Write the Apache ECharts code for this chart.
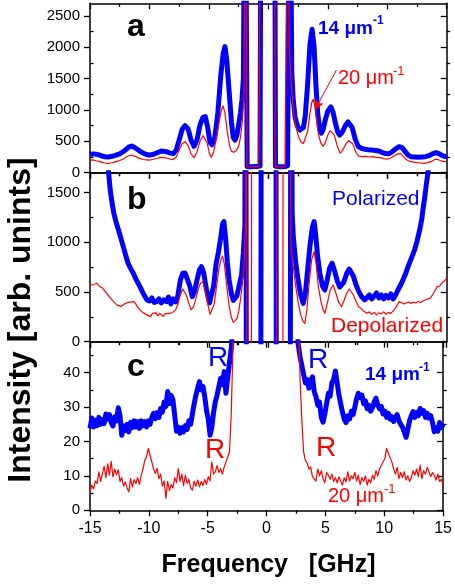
<!DOCTYPE html>
<html><head><meta charset="utf-8">
<script src="https://cdn.jsdelivr.net/npm/echarts@6/dist/echarts.min.js"></script>
<style>html,body{margin:0;padding:0;background:#fff}#c{width:455px;height:584px}</style>
</head><body><div id="c"></div>
<script>
// ---------------- DATA ----------------
// Panel a: intensity vs frequency (GHz), 14 um^-1 (blue) and 20 um^-1 (red)
const a14 = [[-15,290],[-14.75,300],[-14.5,296],[-14.25,284],[-14,266],[-13.75,254],[-13.5,250],[-13.25,257],[-13,266],[-12.75,284],[-12.5,300],[-12.25,330],[-12,365],[-11.75,408],[-11.5,425],[-11.25,402],[-11,370],[-10.75,336],[-10.5,310],[-10.25,290],[-10,280],[-9.75,290],[-9.5,305],[-9.25,326],[-9,345],[-8.75,340],[-8.5,330],[-8.25,312],[-8,305],[-7.75,360],[-7.5,520],[-7.25,690],[-7,750],[-6.75,700],[-6.5,520],[-6.25,420],[-6,520],[-5.75,760],[-5.5,880],[-5.3,893],[-5.1,720],[-4.9,480],[-4.75,445],[-4.5,560],[-4.25,950],[-4,1550],[-3.8,1900],[-3.65,2010],[-3.5,1800],[-3.3,1300],[-3.1,800],[-2.95,560],[-2.8,520],[-2.65,590],[-2.5,760],[-2.35,950],[-2.22,1160],[-2.1,1500],[-1.95,6000],[-1.78,100],[-1.6,96],[-1.4,94],[-1.2,97],[-1,100],[-0.85,104],[-0.7,106],[-0.58,8000],[0.5,8000],[0.6,104],[0.8,98],[1,95],[1.2,96],[1.4,99],[1.55,104],[1.62,110],[1.8,6000],[1.97,1600],[2.1,1150],[2.25,880],[2.45,740],[2.65,680],[2.8,660],[2.95,720],[3.1,900],[3.3,1400],[3.5,2050],[3.68,2287],[3.85,2000],[4,1400],[4.15,950],[4.3,720],[4.45,630],[4.6,680],[4.8,850],[5,980],[5.25,1050],[5.45,960],[5.65,780],[5.85,640],[6,600],[6.2,640],[6.45,740],[6.7,810],[6.85,813],[7.05,720],[7.3,540],[7.55,420],[7.8,390],[8.1,375],[8.4,365],[8.7,360],[9,355],[9.3,345],[9.6,320],[9.85,305],[10.1,300],[10.4,330],[10.7,380],[11,415],[11.25,400],[11.5,340],[11.75,280],[12,255],[12.3,250],[12.6,245],[12.9,250],[13.2,255],[13.5,270],[13.8,300],[14.1,320],[14.35,305],[14.6,275],[14.8,262],[15,255]];
const a20 = [[-15,200],[-14.75,205],[-14.5,190],[-14.25,180],[-14,165],[-13.75,155],[-13.5,150],[-13.25,155],[-13,165],[-12.75,180],[-12.5,195],[-12.25,215],[-12,245],[-11.75,270],[-11.5,282],[-11.25,265],[-11,240],[-10.75,225],[-10.5,210],[-10.25,205],[-10,200],[-9.75,210],[-9.5,222],[-9.25,235],[-9,245],[-8.75,240],[-8.5,230],[-8.25,215],[-8,210],[-7.75,250],[-7.5,360],[-7.25,460],[-7,495],[-6.75,430],[-6.5,300],[-6.25,240],[-6,330],[-5.75,500],[-5.5,590],[-5.35,600],[-5.15,480],[-4.95,300],[-4.8,245],[-4.6,330],[-4.4,520],[-4.15,800],[-3.95,1000],[-3.8,1064],[-3.65,950],[-3.45,650],[-3.25,420],[-3.1,340],[-2.9,325],[-2.7,350],[-2.5,420],[-2.35,560],[-2.2,800],[-2.05,1200],[-1.92,6000],[-1.8,100],[-1.6,95],[-1.4,93],[-1.2,96],[-1,98],[-0.8,100],[-0.66,102],[-0.56,8000],[0.48,8000],[0.58,100],[0.8,96],[1,94],[1.2,95],[1.4,98],[1.55,102],[1.66,6000],[1.75,2100],[1.9,1500],[2.05,1100],[2.2,850],[2.37,690],[2.55,570],[2.75,490],[2.95,465],[3.1,475],[3.3,650],[3.5,950],[3.65,1120],[3.77,1170],[3.9,1080],[4.05,850],[4.2,620],[4.4,480],[4.6,420],[4.8,480],[5,600],[5.2,670],[5.35,680],[5.55,600],[5.8,420],[6.05,310],[6.25,360],[6.5,450],[6.75,510],[6.9,520],[7.1,460],[7.35,330],[7.6,265],[7.9,255],[8.2,260],[8.5,250],[8.8,255],[9.1,245],[9.4,240],[9.7,225],[10,215],[10.3,235],[10.6,270],[10.9,300],[11.1,305],[11.35,260],[11.6,210],[11.9,180],[12.2,170],[12.5,160],[12.8,155],[13.1,150],[13.4,160],[13.7,180],[14,210],[14.2,215],[14.45,195],[14.7,180],[15,175]];

// Panel b: Polarized (blue) and Depolarized (red)
const bPol = [[-15,3000],[-14,2300],[-13.6,1900],[-13.45,1720],[-13.3,1527],[-13.15,1400],[-13,1293],[-12.8,1200],[-12.6,1124],[-12.4,1040],[-12.2,956],[-12,870],[-11.8,789],[-11.6,740],[-11.36,689],[-11.1,620],[-10.8,554],[-10.5,480],[-10.2,420],[-10,410],[-9.8,440],[-9.6,395],[-9.4,403],[-9.2,430],[-9,390],[-8.8,420],[-8.56,403],[-8.4,450],[-8.2,380],[-8,430],[-7.8,400],[-7.6,470],[-7.4,620],[-7.2,689],[-7,690],[-6.85,672],[-6.6,560],[-6.4,453],[-6.2,510],[-6,620],[-5.8,720],[-5.63,755],[-5.45,700],[-5.2,520],[-4.95,390],[-4.8,410],[-4.6,560],[-4.4,780],[-4.2,900],[-4,1050],[-3.85,1180],[-3.74,1208],[-3.6,1050],[-3.45,800],[-3.3,620],[-3.1,480],[-2.95,415],[-2.82,406],[-2.65,460],[-2.5,540],[-2.35,620],[-2.25,675],[-2.1,900],[-1.97,1178],[-1.93,6000],[-1.82,-3000],[-0.66,-3000],[-0.56,6000],[0.6,6000],[0.7,-3000],[1.82,-3000],[1.92,6000],[2,1300],[2.1,1057],[2.3,800],[2.5,621],[2.7,480],[2.93,386],[3.1,470],[3.3,720],[3.49,956],[3.7,1150],[3.85,1208],[4,1050],[4.15,850],[4.33,689],[4.55,560],[4.75,520],[4.95,620],[5.15,740],[5.36,789],[5.55,720],[5.8,610],[6,550],[6.15,537],[6.35,600],[6.6,690],[6.8,730],[6.93,739],[7.15,660],[7.35,580],[7.55,520],[7.8,460],[8.1,420],[8.3,445],[8.5,470],[8.7,430],[8.9,460],[9.1,490],[9.3,440],[9.5,470],[9.7,430],[9.9,465],[10.1,440],[10.3,480],[10.5,430],[10.7,470],[10.9,520],[11.2,588],[11.5,670],[11.75,755],[12,830],[12.3,923],[12.5,1010],[12.73,1124],[12.9,1230],[13,1326],[13.15,1450],[13.3,1594],[13.45,1720],[13.7,2000],[14.2,2600],[15,3000]];
const bDepol = [[-15,571],[-14.85,590],[-14.7,575],[-14.55,595],[-14.4,588],[-14.25,560],[-14.1,575],[-13.95,540],[-13.8,520],[-13.6,487],[-13.45,470],[-13.3,440],[-13.15,420],[-13,400],[-12.85,380],[-12.7,365],[-12.55,375],[-12.4,355],[-12.25,370],[-12.1,380],[-11.95,375],[-11.8,395],[-11.65,380],[-11.5,400],[-11.3,403],[-11.15,380],[-11,350],[-10.8,319],[-10.65,300],[-10.5,290],[-10.35,275],[-10.2,270],[-10.05,250],[-9.9,252],[-9.75,285],[-9.6,265],[-9.45,290],[-9.3,260],[-9.15,286],[-9,275],[-8.85,255],[-8.7,280],[-8.55,265],[-8.4,285],[-8.25,269],[-8.1,290],[-7.95,300],[-7.8,320],[-7.6,380],[-7.4,470],[-7.2,530],[-7.05,520],[-6.9,470],[-6.7,390],[-6.5,320],[-6.3,350],[-6.1,430],[-5.9,530],[-5.7,590],[-5.5,604],[-5.3,510],[-5.1,380],[-4.9,275],[-4.75,290],[-4.55,380],[-4.35,560],[-4.15,740],[-3.95,840],[-3.85,862],[-3.7,780],[-3.5,560],[-3.3,360],[-3.1,240],[-2.95,195],[-2.8,188],[-2.65,230],[-2.5,300],[-2.35,420],[-2.2,560],[-2.05,760],[-1.9,1250],[-1.85,6000],[-1.8,-3000],[-1.44,-3000],[-1.39,6000],[0.66,6000],[0.71,-3000],[1.21,-3000],[1.26,6000],[1.72,6000],[1.9,950],[2.1,750],[2.3,560],[2.5,400],[2.7,280],[2.9,210],[3.07,185],[3.25,330],[3.45,620],[3.65,830],[3.85,906],[4,800],[4.2,560],[4.4,420],[4.6,320],[4.75,286],[4.95,380],[5.2,520],[5.45,571],[5.65,500],[5.9,400],[6.15,352],[6.35,410],[6.6,490],[6.8,530],[6.95,537],[7.15,470],[7.4,400],[7.6,350],[7.8,336],[8,310],[8.3,286],[8.5,300],[8.7,275],[8.9,295],[9.1,270],[9.3,290],[9.5,280],[9.7,300],[9.9,275],[10.1,295],[10.3,285],[10.5,310],[10.7,340],[10.9,380],[11,403],[11.2,395],[11.4,380],[11.6,390],[11.8,400],[12,385],[12.2,400],[12.4,390],[12.6,405],[12.8,395],[13,410],[13.2,420],[13.4,430],[13.6,436],[13.8,470],[14,510],[14.2,554],[14.4,560],[14.6,590],[14.8,610],[15,638]];

// Panel c: sampled every 0.15 GHz from -15 to 15 (201 points)
const freqCStart = -15, freqCStep = 0.15;
const c14 = [
23.8,26.8,24.2,26.2,24.6,27.0,25.0,26.4,25.2,28.0,26.5,27.8,25.5,24.5,27.2,26.0,29.8,27.5,21.8,24.5,
23.2,25.0,22.8,25.6,24.0,26.0,24.2,25.8,23.8,26.0,24.6,25.8,24.2,26.0,25.0,27.0,28.2,26.6,28.4,27.0,
29.6,28.5,31.5,30.2,34.5,31.0,33.4,32.0,27.5,23.0,24.2,22.4,24.0,22.8,24.6,23.5,26.0,25.0,28.0,31.0,
33.5,35.5,37.4,35.0,36.0,33.0,29.0,26.5,21.8,24.0,28.5,31.6,33.5,36.0,38.4,36.5,40.3,34.0,38.5,43.0,
47.0,55,60,60,60,60,60,60,60,60,60,60,60,60,60,60,60,60,60,60,
60,60,60,60,60,60,60,60,60,60,60,60,60,60,60,60,60,55,48.0,44.5,
42.0,39.5,37.0,38.0,35.5,37.5,38.8,34.5,33.0,30.5,31.5,27.0,25.6,28.0,31.0,34.0,33.2,37.0,38.0,40.5,
37.0,33.5,31.0,28.5,26.5,25.5,27.5,26.5,28.8,27.8,30.0,32.5,34.0,32.8,33.5,31.0,31.8,29.5,30.5,28.8,
29.8,31.5,32.6,30.5,29.5,30.2,28.0,28.8,27.0,28.2,26.5,27.2,25.8,27.0,27.8,26.0,25.0,24.2,22.8,21.2,
23.5,26.0,27.5,28.7,27.0,28.5,27.5,29.6,28.2,29.0,27.0,28.2,26.8,27.5,25.5,22.8,24.0,23.0,25.5,24.0,
25.0];
const c20 = [
5.4,7.3,6.2,8.5,7.8,11.2,8.4,10.5,12.8,9.5,13.5,10.2,14.2,9.7,12.0,10.3,11.8,8.4,9.5,7.0,
8.2,6.5,5.4,9.2,6.8,8.9,7.8,9.5,7.5,10.2,12.0,14.5,15.6,18.0,16.0,14.1,12.0,10.7,12.2,9.2,
10.5,7.0,8.5,3.5,8.4,5.8,7.5,6.5,9.5,8.0,12.1,8.4,10.5,7.2,10.2,7.8,9.0,6.5,5.9,8.5,
7.0,8.8,6.8,8.4,7.2,9.0,7.5,9.8,8.5,14.1,10.5,11.2,13.0,11.0,12.1,10.5,12.6,14.0,15.5,17.0,
28.0,48.0,60,60,60,60,60,60,60,60,60,60,60,60,60,60,60,60,60,60,
60,60,60,60,60,60,60,60,60,60,60,60,60,60,60,60,60,60,60,38.0,
26.0,17.0,14.5,13.7,12.0,12.6,9.8,10.2,8.5,12.0,10.0,11.5,9.2,8.0,11.0,10.2,9.0,10.5,8.4,9.5,
8.0,9.7,8.5,7.3,9.5,8.2,11.2,8.5,10.0,9.2,11.0,8.5,10.2,7.5,9.5,8.4,10.0,7.3,9.0,8.0,
10.2,9.0,11.5,10.0,12.0,11.5,14.1,15.0,18.0,16.5,17.0,14.0,12.0,10.5,12.5,9.2,11.0,9.5,11.2,8.8,
10.0,8.4,9.5,11.5,10.2,12.0,9.8,13.1,9.2,11.5,10.5,12.5,12.0,9.8,11.0,10.2,8.8,10.5,8.4,9.0,
7.3];

// Axis ticks
const xMin = -15, xMax = 15, xInterval = 5;
const yMax = [2700, 1700, 49];
const yMajor = [[0,500,1000,1500,2000,2500],[0,500,1000,1500],[0,10,20,30,40]];
const yMinor = [[250,750,1250,1750,2250],[250,750,1250],[5,15,25,35,45]];
// annotation arrow (data coordinates of panel a)
const arrowA = [[5.73,1638],[3.91,1000]];

// ---------------- CHART ----------------
const L = 90, W = 356.7;
const grids = [
  {left: L, width: W, top: 3.3, height: 169.4},
  {left: L, width: W, top: 172.7, height: 169},
  {left: L, width: W, top: 341.7, height: 168.6}
];
const BLACK = '#000';
const FONT = '"Liberation Sans", Arial, Helvetica, sans-serif';
const axisLineStyle = {color: BLACK, width: 1.5};
const tickLineStyle = {color: BLACK, width: 1.3};
const plain = v => String(v);

const xAxes = [], yAxes = [];
for (let g = 0; g < 3; g++) {
  const base = {type: 'value', gridIndex: g, min: xMin, max: xMax, interval: xInterval,
    splitLine: {show: false}, minorSplitLine: {show: false}};
  xAxes.push(Object.assign({}, base, {position: 'bottom',
    axisLine: {show: true, onZero: false, lineStyle: axisLineStyle},
    axisTick: {show: true, inside: false, length: 6, lineStyle: tickLineStyle},
    minorTick: {show: true, splitNumber: 2, length: 3.5, lineStyle: tickLineStyle},
    axisLabel: {show: g === 2, fontSize: 16, color: BLACK, fontFamily: FONT, margin: 10, formatter: plain}}));
  xAxes.push(Object.assign({}, base, {position: 'top',
    axisLine: {show: true, onZero: false, lineStyle: axisLineStyle},
    axisTick: {show: true, inside: true, length: 6, lineStyle: tickLineStyle},
    minorTick: {show: true, splitNumber: 2, length: 3.5, lineStyle: tickLineStyle},
    axisLabel: {show: false}}));
  const yb = {type: 'value', gridIndex: g, min: 0, max: yMax[g], splitLine: {show: false}};
  // left major
  yAxes.push(Object.assign({}, yb, {position: 'left',
    axisLine: {show: true, onZero: false, lineStyle: axisLineStyle},
    axisTick: {show: true, inside: false, length: 6, lineStyle: tickLineStyle, customValues: yMajor[g]},
    axisLabel: {show: true, customValues: yMajor[g], fontSize: 15, color: BLACK, fontFamily: FONT, margin: 10, formatter: plain}}));
  // right major
  yAxes.push(Object.assign({}, yb, {position: 'right',
    axisLine: {show: true, onZero: false, lineStyle: axisLineStyle},
    axisTick: {show: true, inside: true, length: 6, lineStyle: tickLineStyle, customValues: yMajor[g]},
    axisLabel: {show: false}}));
  // right minor (position flips to right since left is taken)
  yAxes.push(Object.assign({}, yb, {position: 'left',
    axisLine: {show: false, onZero: false},
    axisTick: {show: true, inside: true, length: 3.5, lineStyle: tickLineStyle, customValues: yMinor[g]},
    axisLabel: {show: false}}));
  // left minor (position flips to left since right is taken)
  yAxes.push(Object.assign({}, yb, {position: 'right',
    axisLine: {show: false, onZero: false},
    axisTick: {show: true, inside: false, length: 3.5, lineStyle: tickLineStyle, customValues: yMinor[g]},
    axisLabel: {show: false}}));
}

const freqC = c14.map((_, i) => +(freqCStart + i * freqCStep).toFixed(2));
const zip = (xs, ys) => xs.map((x, i) => [x, ys[i]]);

function line(g, data, color, width, extra) {
  return Object.assign({type: 'line', xAxisIndex: 2 * g, yAxisIndex: 4 * g, data: data,
    symbol: 'none', showSymbol: false, clip: true, animation: false,
    lineStyle: {color: color, width: width, join: 'round'}, itemStyle: {color: color}}, extra || {});
}
const BLUE = '#0000ff', RED = '#ff0000';
const series = [
  line(0, a14, BLUE, 5),
  line(0, a20, RED, 1.2, {markLine: {silent: true, animation: false, symbol: ['none', 'arrow'], symbolSize: [7, 10],
    label: {show: false}, lineStyle: {color: RED, width: 1, type: 'solid'},
    data: [[{coord: arrowA[0]}, {coord: arrowA[1]}]]}}),
  line(1, bPol, BLUE, 5),
  line(1, bDepol, RED, 1.2),
  line(2, zip(freqC, c14), BLUE, 5),
  line(2, zip(freqC, c20), RED, 1.2)
];

function txt(x, baseline, text, size, color, bold) {
  return {type: 'text', x: x, y: baseline - 0.3465 * size, z: 100,
    style: {text: text, fill: color, font: (bold ? 'bold ' : '') + size + 'px ' + FONT,
      align: 'left', verticalAlign: 'middle', textAlign: 'left', textVerticalAlign: 'middle'}};
}
const graphics = [
  txt(127, 38, 'a', 32, BLACK, true),
  txt(127, 211.7, 'b', 32, BLACK, true),
  txt(127, 378, 'c', 32, BLACK, true),
  txt(318, 35, '14 μm', 19, BLUE, true), txt(373, 25, '-1', 12, BLUE, true),
  txt(338, 85, '20 μm', 20, RED, false), txt(393, 76, '-1', 13, RED, false),
  txt(332, 206.7, 'Polarized', 21, BLUE, false),
  txt(331, 333.3, 'Depolarized', 21, RED, false),
  txt(208, 368.3, 'R', 28, BLUE, false),
  txt(205, 460, 'R', 28, RED, false),
  txt(308, 370, 'R', 28, BLUE, false),
  txt(316, 458.3, 'R', 28, RED, false),
  txt(365, 381.7, '14 μm', 19, BLUE, true), txt(419, 372, '-1', 12, BLUE, true),
  txt(328, 503.3, '20 μm', 20, RED, false), txt(384, 494, '-1', 13, RED, false),
  {type: 'text', x: 268.5, y: 574 - 0.3465 * 25, z: 100,
    style: {text: 'Frequency   [GHz]', fill: BLACK, font: 'bold 25px ' + FONT, align: 'center', verticalAlign: 'middle', textAlign: 'center', textVerticalAlign: 'middle'}},
  {type: 'text', x: 21, y: 320, rotation: Math.PI / 2, z: 100,
    style: {text: 'Intensity [arb. unints]', fill: BLACK, font: 'bold 32px ' + FONT, align: 'center', verticalAlign: 'middle', textAlign: 'center', textVerticalAlign: 'middle'}}
];

const chart = echarts.init(document.getElementById('c'), null, {renderer: 'canvas'});
chart.setOption({
  animation: false,
  backgroundColor: '#fff',
  textStyle: {fontFamily: FONT},
  grid: grids,
  xAxis: xAxes,
  yAxis: yAxes,
  series: series,
  graphic: graphics
});
</script></body></html>
